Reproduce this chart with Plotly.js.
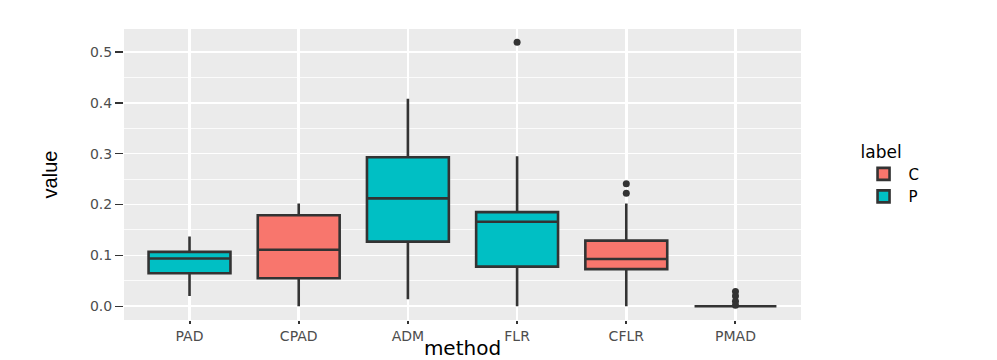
<!DOCTYPE html>
<html>
<head>
<meta charset="utf-8">
<script src="https://cdn.plot.ly/plotly-3.0.1.min.js"></script>
<style>
  body { margin: 0; background: #fff; }
  #chart { width: 997px; height: 360px; }
</style>
</head>
<body>
<div id="chart"></div>
<script>
// method order on the x axis
var methods = ["PAD", "CPAD", "ADM", "FLR", "CFLR", "PMAD"];

// group C boxes
var cMethods = ["CPAD", "CFLR"];
var cLow = [0.000, 0.000];
var cQ1 = [0.055, 0.073];
var cMed = [0.111, 0.093];
var cQ3 = [0.179, 0.129];
var cHigh = [0.202, 0.202];

// group P boxes
var pMethods = ["PAD", "ADM", "FLR", "PMAD"];
var pLow = [0.020, 0.014, 0.000, 0.000];
var pQ1 = [0.065, 0.127, 0.078, 0.000];
var pMed = [0.094, 0.212, 0.166, 0.000];
var pQ3 = [0.107, 0.293, 0.185, 0.000];
var pHigh = [0.137, 0.408, 0.295, 0.000];

// outlying points
var outMethod = ["FLR", "CFLR", "CFLR", "PMAD", "PMAD", "PMAD", "PMAD"];
var outValue = [0.519, 0.241, 0.222, 0.029, 0.020, 0.010, 0.002];

var edge = "#333333";

var boxC = {
  type: "box",
  name: "C",
  x: cMethods,
  q1: cQ1, median: cMed, q3: cQ3,
  lowerfence: cLow, upperfence: cHigh,
  boxpoints: false,
  width: 0.75,
  whiskerwidth: 0,
  fillcolor: "#F8766D",
  line: {color: edge, width: 2.6},
  hoverinfo: "skip"
};

var boxP = {
  type: "box",
  name: "P",
  x: pMethods,
  q1: pQ1, median: pMed, q3: pQ3,
  lowerfence: pLow, upperfence: pHigh,
  boxpoints: false,
  width: 0.75,
  whiskerwidth: 0,
  fillcolor: "#00BFC4",
  line: {color: edge, width: 2.6},
  hoverinfo: "skip"
};

var outliers = {
  type: "scatter",
  mode: "markers",
  x: outMethod,
  y: outValue,
  marker: {color: edge, size: 7},
  showlegend: false,
  hoverinfo: "skip"
};

var tickFont = {family: "DejaVu Sans, sans-serif", size: 14, color: "#4D4D4D"};

var layout = {
  width: 997,
  height: 360,
  margin: {l: 124, r: 196, t: 29, b: 40},
  paper_bgcolor: "#FFFFFF",
  plot_bgcolor: "#EBEBEB",
  boxmode: "overlay",
  xaxis: {
    type: "category",
    categoryorder: "array",
    categoryarray: methods,
    range: [-0.6, 5.6],
    showgrid: true,
    gridcolor: "#FFFFFF",
    gridwidth: 2.5,
    zeroline: false,
    ticks: "outside",
    ticklen: 3,
    tickwidth: 2,
    tickcolor: edge,
    tickfont: tickFont,
    title: {text: "method", font: {family: "DejaVu Sans, sans-serif", size: 20, color: "#000"}, standoff: 0}
  },
  yaxis: {
    range: [-0.027, 0.545],
    tickvals: [0, 0.1, 0.2, 0.3, 0.4, 0.5],
    ticktext: ["0.0", "0.1", "0.2", "0.3", "0.4", "0.5"],
    showgrid: true,
    gridcolor: "#FFFFFF",
    gridwidth: 1.6,
    minor: {tickvals: [0.05, 0.15, 0.25, 0.35, 0.45], showgrid: true, gridcolor: "#FFFFFF", gridwidth: 0.8},
    zeroline: false,
    ticks: "outside",
    ticklen: 8,
    tickwidth: 1.5,
    tickcolor: edge,
    tickfont: tickFont,
    title: {text: "value", font: {family: "Liberation Sans Narrow, Liberation Sans, sans-serif", size: 20, color: "#000"}, standoff: 26}
  },
  showlegend: true,
  legend: {
    x: 1.085, xanchor: "left",
    y: 0.5, yanchor: "middle",
    bgcolor: "#FFFFFF",
    title: {text: "label", font: {family: "DejaVu Sans, sans-serif", size: 17, color: "#000"}},
    font: {family: "DejaVu Sans, sans-serif", size: 15, color: "#000"},
    itemwidth: 40,
    tracegroupgap: 2
  }
};

Plotly.newPlot("chart", [boxC, boxP, outliers], layout, {displayModeBar: false, staticPlot: true});
</script>
</body>
</html>
